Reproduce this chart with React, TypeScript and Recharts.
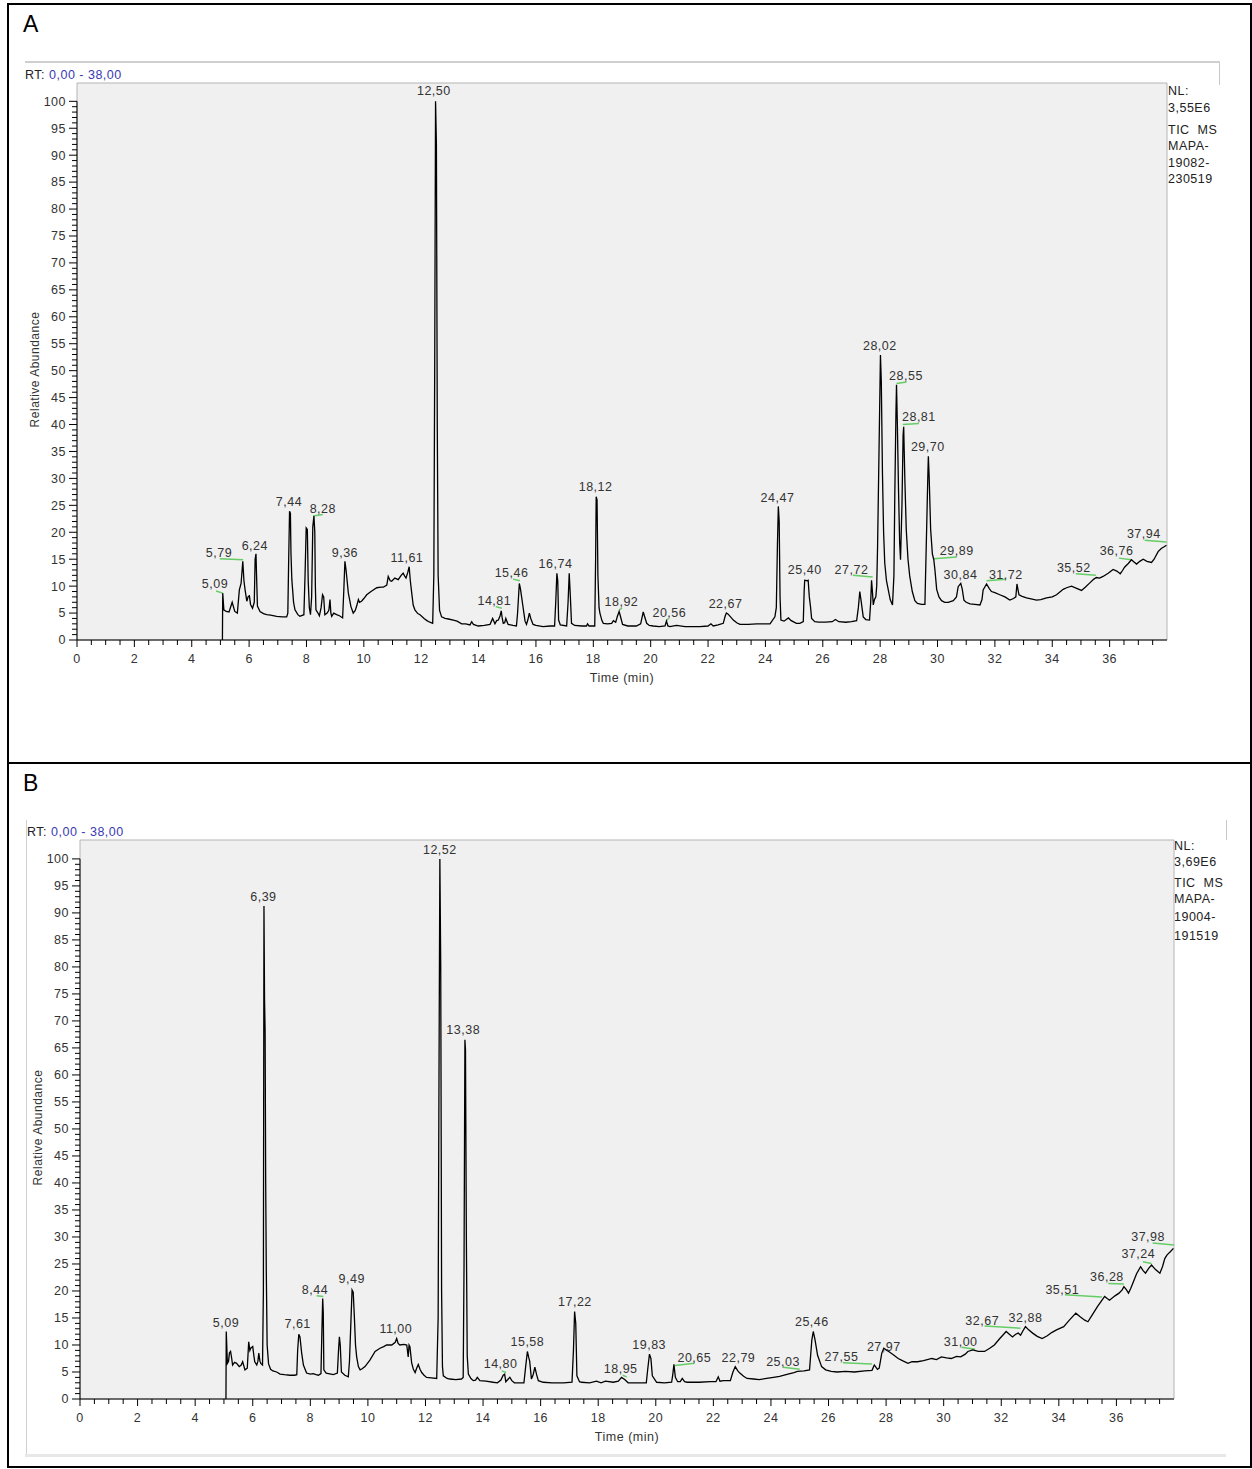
import React from "react";
import {
  CartesianGrid,
  ComposedChart,
  Label,
  Line,
  ReferenceArea,
  ReferenceLine,
  Scatter,
  XAxis,
  YAxis,
} from "recharts";

const FONT = '"Liberation Sans", Arial, Helvetica, sans-serif';

// TIC trace of MAPA-19082-230519: [time (min), relative abundance (%)]
const traceA: [number, number][] = [
  [5.07, 0], [5.08, 8.7], [5.12, 5.6], [5.2, 5.3], [5.3, 5.2], [5.41, 7.0], [5.5, 5.3], [5.59, 5.0],
  [5.66, 9.3], [5.72, 10.5], [5.78, 14.6], [5.82, 11], [5.86, 9.3], [5.92, 7.2], [5.97, 8.1], [6.01, 8.2],
  [6.05, 6.6], [6.12, 5.9], [6.18, 7], [6.21, 15], [6.24, 16.0], [6.26, 12], [6.29, 6.3], [6.38, 5.3],
  [6.5, 4.9], [6.61, 4.7], [6.75, 4.6], [6.96, 4.4], [7.15, 4.3], [7.31, 4.3], [7.35, 5.0], [7.38, 15],
  [7.41, 23.9], [7.44, 23.5], [7.46, 16], [7.49, 11.2], [7.55, 7], [7.6, 5.6], [7.7, 4.7], [7.77, 4.4],
  [7.91, 4.7], [7.95, 12], [7.99, 20.8], [8.03, 20.5], [8.06, 11], [8.1, 6], [8.14, 4.7], [8.18, 8],
  [8.22, 21], [8.26, 23.0], [8.29, 20], [8.31, 10], [8.33, 5.6], [8.4, 5], [8.45, 4.5], [8.51, 6],
  [8.56, 8.4], [8.6, 8], [8.64, 4.7], [8.72, 5], [8.78, 5.5], [8.82, 7.5], [8.85, 5], [8.88, 4.4],
  [8.95, 5], [9.05, 4.7], [9.15, 4.5], [9.26, 4.1], [9.3, 9], [9.34, 14.6], [9.38, 13], [9.46, 8.7],
  [9.55, 6.2], [9.63, 5.0], [9.7, 5.5], [9.75, 6.3], [9.81, 7.5], [9.85, 7], [9.92, 7.2], [10.0, 7.7],
  [10.1, 8.4], [10.25, 9.0], [10.45, 9.7], [10.6, 9.8], [10.68, 9.8], [10.8, 10.2], [10.85, 11.8], [10.92, 11],
  [10.97, 10.9], [11.08, 11.5], [11.2, 11.2], [11.3, 12], [11.37, 12.4], [11.42, 11.9], [11.47, 11.5], [11.53, 12.5],
  [11.58, 13.6], [11.62, 11], [11.67, 8.7], [11.72, 6.5], [11.78, 5.6], [11.88, 4.9], [11.96, 4.7], [12.1, 4.0],
  [12.2, 3.6], [12.3, 3.3], [12.4, 3.1], [12.44, 12], [12.47, 50], [12.5, 100], [12.53, 92], [12.56, 40],
  [12.59, 12], [12.64, 5.5], [12.71, 4.3], [12.83, 4.0], [12.95, 3.9], [13.12, 3.7], [13.25, 3.5], [13.41, 3.0],
  [13.55, 3.0], [13.7, 2.8], [13.76, 3.4], [13.82, 2.9], [13.99, 2.6], [14.2, 2.7], [14.4, 2.9], [14.49, 4.0],
  [14.57, 3.0], [14.63, 3.6], [14.69, 3.7], [14.75, 4.5], [14.79, 5.4], [14.82, 4.2], [14.86, 3.1], [14.91, 3.2],
  [14.95, 4.0], [15.0, 3.3], [15.03, 2.9], [15.2, 2.7], [15.32, 2.6], [15.36, 5], [15.42, 10.5], [15.46, 9.5],
  [15.5, 8.0], [15.54, 6.5], [15.58, 5.0], [15.62, 3.5], [15.67, 2.9], [15.72, 3.8], [15.77, 5.0], [15.82, 4.0],
  [15.9, 2.9], [16.0, 2.7], [16.25, 2.5], [16.5, 2.6], [16.65, 2.6], [16.69, 7], [16.73, 12.4], [16.76, 11],
  [16.79, 3.7], [16.85, 2.8], [17.07, 2.6], [17.12, 7], [17.16, 12.4], [17.2, 8], [17.24, 3.1], [17.35, 2.7],
  [17.6, 2.6], [17.76, 2.6], [17.8, 3.0], [17.85, 2.6], [18.05, 2.6], [18.08, 15], [18.1, 26.6], [18.13, 26],
  [18.16, 12], [18.2, 6], [18.23, 5.0], [18.3, 3.6], [18.35, 3.1], [18.5, 3.0], [18.64, 3.1], [18.7, 3.6],
  [18.78, 3.3], [18.84, 4.4], [18.9, 5.3], [18.94, 4.5], [19.02, 2.9], [19.2, 2.6], [19.39, 2.6], [19.5, 2.6],
  [19.65, 3.0], [19.7, 4.2], [19.74, 5.2], [19.78, 4.5], [19.86, 3.1], [19.95, 2.7], [20.09, 2.6], [20.3, 2.5],
  [20.5, 2.6], [20.55, 3.5], [20.6, 2.6], [20.67, 2.5], [20.9, 2.7], [21.2, 2.5], [21.5, 2.5], [21.71, 2.5],
  [22.0, 2.6], [22.1, 3.0], [22.18, 2.6], [22.35, 2.8], [22.53, 3.1], [22.6, 4.5], [22.64, 5.0], [22.7, 4.8],
  [22.8, 4.2], [22.88, 3.7], [23.0, 3.2], [23.11, 2.9], [23.4, 2.9], [23.7, 3.0], [24.0, 3.0], [24.16, 3.0],
  [24.33, 4.3], [24.38, 6], [24.42, 18], [24.45, 24.8], [24.48, 22], [24.51, 8], [24.54, 3.7], [24.65, 3.5],
  [24.8, 4.1], [24.9, 3.6], [25.08, 3.1], [25.2, 3.1], [25.32, 3.4], [25.35, 9], [25.37, 11.1], [25.45, 11.0],
  [25.49, 11.1], [25.53, 8], [25.57, 6.3], [25.61, 4.0], [25.72, 3.4], [25.86, 3.3], [26.1, 3.3], [26.33, 3.4],
  [26.44, 3.8], [26.56, 3.4], [26.8, 3.3], [27.0, 3.4], [27.18, 3.6], [27.24, 6], [27.29, 9.0], [27.33, 7.5],
  [27.41, 4.3], [27.5, 3.8], [27.63, 3.7], [27.67, 7], [27.7, 11.1], [27.73, 9], [27.76, 6.5], [27.8, 7.5],
  [27.85, 8.0], [27.88, 10], [27.91, 17.3], [27.96, 35], [28.01, 52.9], [28.04, 48], [28.08, 31], [28.12, 20],
  [28.16, 14.3], [28.22, 11], [28.28, 9.4], [28.35, 7.5], [28.43, 6.5], [28.48, 12], [28.51, 26.6], [28.55, 42],
  [28.57, 47.4], [28.6, 40], [28.64, 27.9], [28.68, 18], [28.71, 14.9], [28.76, 25], [28.8, 38], [28.82, 39.6],
  [28.86, 30], [28.91, 20.5], [28.97, 15], [29.03, 11.9], [29.12, 9], [29.21, 7.3], [29.3, 6.8], [29.44, 6.6],
  [29.56, 6.6], [29.62, 20.5], [29.66, 30], [29.68, 34.1], [29.71, 30], [29.76, 20.5], [29.82, 16], [29.87, 14.9],
  [29.91, 13.0], [29.97, 9.4], [30.05, 8], [30.14, 7.3], [30.25, 7.0], [30.37, 7.0], [30.55, 7.3], [30.66, 8],
  [30.72, 9.9], [30.81, 10.5], [30.86, 9.5], [30.92, 7.4], [31.0, 7.0], [31.13, 6.7], [31.3, 6.6], [31.48, 6.5],
  [31.55, 7.5], [31.59, 9.3], [31.71, 10.4], [31.8, 9.6], [31.88, 9.0], [32.0, 8.8], [32.17, 8.4], [32.35, 8.0],
  [32.52, 7.4], [32.65, 7.7], [32.73, 8.0], [32.77, 10.4], [32.8, 9.5], [32.84, 8.4], [32.95, 8.1], [33.1, 7.8],
  [33.3, 7.6], [33.45, 7.4], [33.6, 7.5], [33.8, 7.8], [34.0, 8.0], [34.15, 8.4], [34.38, 9.4], [34.5, 9.7],
  [34.67, 10.0], [34.85, 9.6], [35.02, 9.2], [35.15, 9.8], [35.31, 10.6], [35.45, 11.3], [35.54, 11.6], [35.65, 11.5],
  [35.77, 11.8], [35.95, 12.4], [36.12, 13.1], [36.25, 12.8], [36.37, 12.3], [36.45, 12.9], [36.52, 13.5], [36.65, 14.2],
  [36.76, 14.9], [36.85, 14.5], [36.94, 14.1], [37.05, 14.6], [37.17, 15.0], [37.3, 14.6], [37.46, 14.4], [37.55, 15.0],
  [37.69, 16.4], [37.8, 17.0], [37.9, 17.3], [37.98, 17.6],
];

// TIC trace of MAPA-19004-191519
const traceB: [number, number][] = [
  [5.07, 0], [5.08, 12.5], [5.12, 6.6], [5.16, 7], [5.19, 8.5], [5.23, 8.8], [5.27, 7.5], [5.3, 6.3],
  [5.37, 6.8], [5.44, 6.6], [5.53, 6.0], [5.6, 6.3], [5.65, 6.9], [5.73, 5.4], [5.81, 5.7], [5.86, 10.6],
  [5.9, 9.0], [5.93, 9.4], [6.0, 9.7], [6.04, 8], [6.07, 6.9], [6.14, 6.3], [6.18, 7], [6.21, 8.5],
  [6.25, 7], [6.28, 6.6], [6.34, 6.3], [6.37, 20], [6.39, 91.3], [6.41, 74], [6.43, 68], [6.45, 40],
  [6.47, 24], [6.5, 10], [6.55, 6.5], [6.62, 5.5], [6.7, 5.2], [6.83, 5.0], [6.95, 4.6], [7.1, 4.5],
  [7.29, 4.4], [7.45, 4.4], [7.53, 4.5], [7.56, 9], [7.6, 12.0], [7.64, 11.5], [7.7, 8.5], [7.76, 6.3],
  [7.87, 4.8], [8.0, 4.6], [8.1, 4.7], [8.2, 4.5], [8.28, 4.4], [8.37, 4.7], [8.4, 12], [8.43, 18.6],
  [8.45, 16], [8.47, 5.4], [8.55, 4.8], [8.63, 4.7], [8.8, 4.5], [8.94, 4.8], [8.98, 9], [9.01, 11.5],
  [9.04, 10], [9.08, 5], [9.2, 4.4], [9.32, 4.1], [9.36, 7], [9.4, 12.8], [9.45, 20.2], [9.49, 19.8],
  [9.53, 15.2], [9.57, 10], [9.61, 7.8], [9.67, 6], [9.73, 5.4], [9.8, 5.6], [9.9, 6.0], [10.07, 7.2],
  [10.25, 8.8], [10.42, 9.4], [10.55, 9.7], [10.65, 10.0], [10.83, 10.0], [10.95, 10.5], [11.0, 11.2], [11.05, 10.3],
  [11.11, 10.0], [11.25, 10.1], [11.35, 10.0], [11.4, 7.8], [11.43, 10.0], [11.46, 9.7], [11.52, 6.7], [11.58, 5.5],
  [11.64, 4.9], [11.7, 5.8], [11.75, 6.4], [11.81, 5.5], [11.87, 4.9], [11.95, 4.4], [12.04, 4.0], [12.2, 3.9],
  [12.39, 3.8], [12.44, 15], [12.47, 60], [12.5, 100], [12.53, 80], [12.56, 20], [12.59, 6], [12.62, 4.3],
  [12.75, 3.8], [12.85, 3.7], [13.05, 3.6], [13.25, 3.7], [13.31, 4], [13.34, 25], [13.37, 66.5], [13.39, 64.6],
  [13.42, 30], [13.45, 8], [13.49, 4.6], [13.58, 3.8], [13.66, 3.4], [13.74, 3.5], [13.8, 4.0], [13.89, 3.4],
  [14.1, 3.3], [14.35, 3.1], [14.5, 3.0], [14.62, 3.5], [14.7, 4.4], [14.75, 4.6], [14.79, 3.2], [14.86, 3.6],
  [14.93, 4.0], [15.0, 3.4], [15.09, 3.0], [15.25, 3.0], [15.42, 3.0], [15.48, 6], [15.54, 8.8], [15.59, 7.6],
  [15.62, 7.0], [15.68, 3.7], [15.74, 4.5], [15.8, 5.9], [15.86, 4.5], [15.92, 3.4], [16.09, 3.1], [16.4, 3.0],
  [16.8, 3.0], [17.09, 3.1], [17.14, 9], [17.18, 16.2], [17.22, 14], [17.26, 4.3], [17.35, 3.2], [17.42, 3.1],
  [17.7, 3.0], [17.94, 3.3], [18.1, 3.0], [18.25, 3.3], [18.52, 3.1], [18.7, 3.3], [18.81, 4.0], [18.92, 3.6],
  [19.04, 3.0], [19.3, 3.0], [19.67, 3.0], [19.72, 5.5], [19.78, 8.3], [19.83, 7.5], [19.88, 4.3], [20.03, 3.1],
  [20.3, 3.0], [20.55, 3.1], [20.59, 4.5], [20.63, 6.4], [20.68, 4], [20.76, 3.2], [20.85, 3.2], [20.92, 3.8],
  [21.0, 3.2], [21.09, 3.1], [21.5, 3.1], [21.9, 3.2], [22.09, 3.2], [22.17, 4.1], [22.23, 3.3], [22.35, 3.4],
  [22.59, 3.4], [22.68, 5.0], [22.76, 6.0], [22.85, 5.2], [22.92, 4.8], [23.05, 4.2], [23.17, 3.8], [23.4, 3.7],
  [23.59, 3.6], [23.85, 3.8], [24.09, 4.0], [24.3, 4.2], [24.59, 4.6], [24.8, 4.9], [24.92, 5.1], [25.15, 5.2],
  [25.34, 5.4], [25.42, 10.9], [25.47, 12.5], [25.53, 11], [25.62, 8.1], [25.76, 6.0], [25.9, 5.4], [26.09, 5.1],
  [26.3, 5.0], [26.59, 5.1], [26.9, 5.0], [27.26, 5.2], [27.51, 5.3], [27.59, 6.3], [27.7, 5.5], [27.76, 5.7],
  [27.85, 8.5], [27.92, 9.4], [28.0, 9.1], [28.09, 8.8], [28.25, 8.2], [28.42, 7.5], [28.6, 7.0], [28.76, 6.6],
  [28.9, 6.9], [29.09, 6.9], [29.3, 7.1], [29.59, 7.5], [29.75, 7.3], [29.92, 7.8], [30.1, 7.6], [30.26, 7.5],
  [30.45, 7.9], [30.59, 7.8], [30.75, 8.3], [30.84, 8.8], [31.01, 9.1], [31.2, 8.8], [31.42, 8.8], [31.6, 9.4],
  [31.76, 10.0], [31.95, 11.2], [32.17, 12.5], [32.28, 12.0], [32.39, 11.5], [32.5, 12.0], [32.59, 12.2], [32.67, 11.8],
  [32.75, 12.6], [32.84, 13.4], [32.95, 12.8], [33.09, 12.2], [33.25, 11.6], [33.42, 11.2], [33.6, 11.7], [33.75, 12.3],
  [33.92, 12.8], [34.17, 13.4], [34.35, 14.5], [34.59, 15.9], [34.75, 15.2], [34.9, 14.6], [35.01, 14.3], [35.15, 15.5],
  [35.34, 17.1], [35.5, 18.3], [35.59, 19.0], [35.68, 18.6], [35.76, 18.3], [35.95, 19.1], [36.09, 19.6], [36.2, 20.2],
  [36.26, 20.8], [36.35, 20.2], [36.42, 19.6], [36.5, 20.5], [36.59, 21.7], [36.7, 23.2], [36.84, 24.5], [36.92, 23.8],
  [37.01, 23.3], [37.12, 24.2], [37.22, 24.8], [37.35, 24.0], [37.51, 23.3], [37.6, 24.5], [37.68, 26.0], [37.76, 26.7],
  [37.88, 27.3], [37.98, 27.9],
];

// peak annotations: [text, time, abundance] where the text sits
const peaksA: [string, number, number][] = [
  ["5,09", 4.81, 10.4], ["5,79", 4.95, 16.2], ["6,24", 6.2, 17.6], ["7,44", 7.39, 25.6],
  ["8,28", 8.57, 24.3], ["9,36", 9.34, 16.3], ["11,61", 11.5, 15.2], ["12,50", 12.44, 102.0],
  ["14,81", 14.55, 7.3], ["15,46", 15.15, 12.5], ["16,74", 16.68, 14.2], ["18,12", 18.08, 28.5],
  ["18,92", 18.98, 7.1], ["20,56", 20.65, 5.1], ["22,67", 22.61, 6.7], ["24,47", 24.42, 26.5],
  ["25,40", 25.37, 13.0], ["27,72", 27.0, 13.1], ["28,02", 27.99, 54.6], ["28,55", 28.9, 49.0],
  ["28,81", 29.35, 41.4], ["29,70", 29.66, 35.9], ["29,89", 30.67, 16.5], ["30,84", 30.8, 12.2],
  ["31,72", 32.38, 12.2], ["35,52", 34.75, 13.5], ["36,76", 36.24, 16.5], ["37,94", 37.19, 19.7],
];

const peaksB: [string, number, number][] = [
  ["5,09", 5.07, 14.2], ["6,39", 6.37, 93.0], ["7,61", 7.56, 13.9], ["8,44", 8.16, 20.3],
  ["9,49", 9.44, 22.2], ["11,00", 10.97, 13.1], ["12,52", 12.5, 101.8], ["13,38", 13.31, 68.3],
  ["14,80", 14.61, 6.5], ["15,58", 15.54, 10.6], ["17,22", 17.19, 18.0], ["18,95", 18.78, 5.7],
  ["19,83", 19.77, 10.0], ["20,65", 21.34, 7.6], ["22,79", 22.87, 7.6], ["25,03", 24.42, 6.9],
  ["25,46", 25.42, 14.3], ["27,55", 26.45, 7.8], ["27,97", 27.92, 9.7], ["31,00", 30.59, 10.6],
  ["32,67", 31.34, 14.6], ["32,88", 32.84, 15.1], ["35,51", 34.12, 20.2], ["36,28", 35.67, 22.7],
  ["37,24", 36.76, 26.9], ["37,98", 37.1, 30.0],
];

// green peak marks: [t1, v1, t2, v2]
const marksA: [number, number, number, number][] = [
  [4.85, 9.1, 5.08, 8.7], [4.98, 15.1, 5.79, 14.9], [8.23, 23.0, 8.57, 23.3], [14.6, 6.2, 14.81, 5.9],
  [15.2, 11.3, 15.44, 11.0], [18.9, 5.6, 19.0, 5.9], [20.56, 3.6, 20.62, 4.0], [27.05, 12.0, 27.74, 11.7],
  [28.57, 47.6, 28.92, 47.9], [28.79, 40.0, 29.35, 40.2], [29.87, 15.1, 30.67, 15.4], [31.71, 11.0, 32.38, 11.3],
  [34.82, 12.3, 35.52, 12.0], [36.32, 15.2, 36.76, 14.9], [37.22, 18.5, 37.98, 18.2],
];

const marksB: [number, number, number, number][] = [
  [8.22, 19.1, 8.45, 19.0], [14.65, 5.2, 14.8, 4.9], [18.85, 4.4, 18.99, 4.1], [20.67, 6.2, 21.34, 6.6],
  [24.42, 5.9, 25.0, 5.5], [26.5, 6.7, 27.51, 6.5], [30.62, 9.6, 31.09, 9.2], [31.42, 13.5, 32.67, 13.1],
  [34.21, 19.3, 35.5, 18.9], [35.72, 21.4, 36.26, 21.3], [36.92, 25.4, 37.22, 25.1], [37.26, 28.9, 38.0, 28.5],
];

const infoA = ["NL:", "3,55E6", "TIC  MS", "MAPA-", "19082-", "230519"];
const infoB = ["NL:", "3,69E6", "TIC  MS", "MAPA-", "19004-", "191519"];

const xMajor = [0, 2, 4, 6, 8, 10, 12, 14, 16, 18, 20, 22, 24, 26, 28, 30, 32, 34, 36];
const yMajor = [0, 5, 10, 15, 20, 25, 30, 35, 40, 45, 50, 55, 60, 65, 70, 75, 80, 85, 90, 95, 100];

// minor ticks every 0.5 min and every 1 %
const xTicks: number[] = [];
xMajor.forEach((t) => [0, 0.5, 1, 1.5].forEach((d) => xTicks.push(t + d)));
const yTicks: number[] = [];
yMajor.forEach((v, i) => {
  if (i === yMajor.length - 1) yTicks.push(v);
  else [0, 1, 2, 3, 4].forEach((d) => yTicks.push(v + d));
});

const textStyle = { fontFamily: FONT, fontSize: 12.5, letterSpacing: 0.5, fill: "#333" };

const XTick = (p: any) => {
  const { x, y, payload } = p;
  const major = xMajor.includes(payload.value);
  return (
    <g>
      <line x1={x} x2={x} y1={y} y2={y + (major ? 7 : 5)} stroke="#000" />
      {major && (
        <text x={x} y={y + 19} dy="0.35em" textAnchor="middle" {...textStyle}>
          {payload.value}
        </text>
      )}
    </g>
  );
};

const YTick = (p: any) => {
  const { x, y, payload } = p;
  const major = yMajor.includes(payload.value);
  return (
    <g>
      <line x1={x - (major ? 8 : 5)} x2={x} y1={y} y2={y} stroke="#000" />
      {major && (
        <text x={x - 11} y={y} dy="0.35em" textAnchor="end" {...textStyle}>
          {payload.value}
        </text>
      )}
    </g>
  );
};

const PeakLabel = (p: any) => (
  <text x={p.cx} y={p.cy} dy="0.35em" textAnchor="middle" {...textStyle}>
    {p.payload.text}
  </text>
);

function Chromatogram({
  trace,
  peaks,
  marks,
  yMax,
  top,
  margin,
  axisWidth,
}: {
  trace: [number, number][];
  peaks: [string, number, number][];
  marks: [number, number, number, number][];
  yMax: number;
  top: number;
  margin: { top: number; right: number; bottom: number; left: number };
  axisWidth: number;
}) {
  const line = trace.map(([t, v]) => ({ t, v }));
  const labels = peaks.map(([text, t, v]) => ({ text, t, v }));
  return (
    <div style={{ position: "absolute", left: 0, top }}>
      <ComposedChart width={1252} height={700} margin={margin}>
        <CartesianGrid fill="#f0f0f0" horizontal={false} vertical={false} />
        <ReferenceArea x1={0} x2={38} y1={0} y2={yMax} fill="none" stroke="#b4b4b4" ifOverflow="visible" />
        <XAxis
          type="number"
          dataKey="t"
          domain={[0, 38]}
          allowDataOverflow
          ticks={xTicks}
          interval={0}
          tickSize={0}
          tickMargin={0}
          tickLine={false}
          tick={XTick}
          height={46}
          stroke="#000"
        >
          <Label value="Time (min)" position="insideBottom" offset={4} {...textStyle} />
        </XAxis>
        <YAxis
          type="number"
          domain={[0, yMax]}
          allowDataOverflow
          ticks={yTicks}
          interval={0}
          tickSize={0}
          tickMargin={0}
          tickLine={false}
          axisLine={false}
          tick={YTick}
          width={axisWidth}
        >
          <Label
            content={(lp: any) => {
              const vb = lp.viewBox || { x: 0, y: margin.top, width: axisWidth, height: 557 };
              const cx = vb.x + vb.width - 42;
              const cy = vb.y + vb.height / 2 + 8;
              return (
                <text
                  x={cx}
                  y={cy}
                  dy="0.35em"
                  transform={`rotate(-90 ${cx} ${cy})`}
                  textAnchor="middle"
                  {...textStyle}
                  fontSize={12}
                >
                  Relative Abundance
                </text>
              );
            }}
          />
        </YAxis>
        <ReferenceLine segment={[{ x: 0, y: 0 }, { x: 0, y: 100 }]} stroke="#000" ifOverflow="visible" />
        {marks.map((m, i) => (
          <ReferenceLine
            key={i}
            segment={[{ x: m[0], y: m[1] }, { x: m[2], y: m[3] }]}
            stroke="#66cc66"
            strokeWidth={1.5}
            ifOverflow="visible"
          />
        ))}
        <Line
          data={line}
          dataKey="v"
          type="linear"
          stroke="#000"
          strokeWidth={1.3}
          dot={false}
          isAnimationActive={false}
        />
        <Scatter data={labels} dataKey="v" shape={PeakLabel} isAnimationActive={false} />
      </ComposedChart>
    </div>
  );
}

export default function App() {
  const t = { fontFamily: FONT, fontSize: 12.5, letterSpacing: 0.5, fill: "#222" };
  const offsA = [95, 112, 134, 150, 167, 183];
  const offsB = [849.5, 866, 887, 903, 921, 939.5];
  return (
    <div style={{ position: "absolute", left: 0, top: 0, width: 1252, height: 1469, background: "#fff" }}>
      <svg width={1252} height={1469} style={{ position: "absolute", left: 0, top: 0 }}>
        <rect x={8} y={4} width={1243} height={1463} fill="none" stroke="#000" strokeWidth={2} />
        <line x1={8} x2={1251} y1={763} y2={763} stroke="#000" strokeWidth={2} />
        <text x={23} y={32} fontFamily={FONT} fontSize={23}>A</text>
        <text x={23} y={791} fontFamily={FONT} fontSize={23}>B</text>
        <line x1={25} x2={1220} y1={62} y2={62} stroke="#cfcfcf" strokeWidth={2} />
        <line x1={1219.5} x2={1219.5} y1={62} y2={85} stroke="#c8c8c8" />
        <line x1={26.5} x2={26.5} y1={820} y2={1455} stroke="#d0d0d0" />
        <line x1={25} x2={1226} y1={1455.5} y2={1455.5} stroke="#e8e8e8" strokeWidth={3} />
        <line x1={1226.5} x2={1226.5} y1={820} y2={840} stroke="#c8c8c8" />
        <text x={25} y={78.5} {...t}>
          RT: <tspan fill="#3a3ab4">0,00 - 38,00</tspan>
        </text>
        <text x={27} y={835.5} {...t}>
          RT: <tspan fill="#3a3ab4">0,00 - 38,00</tspan>
        </text>
        {infoA.map((s, i) => (
          <text key={"a" + i} x={1168} y={offsA[i]} {...t} style={{ whiteSpace: "pre" }}>
            {s}
          </text>
        ))}
        {infoB.map((s, i) => (
          <text key={"b" + i} x={1174} y={offsB[i]} {...t} style={{ whiteSpace: "pre" }}>
            {s}
          </text>
        ))}
      </svg>
      <Chromatogram
        trace={traceA}
        peaks={peaksA}
        marks={marksA}
        yMax={103.4}
        top={0}
        margin={{ top: 83, right: 85, bottom: 14, left: 0 }}
        axisWidth={77}
      />
      <Chromatogram
        trace={traceB}
        peaks={peaksB}
        marks={marksB}
        yMax={103.5}
        top={760}
        margin={{ top: 80, right: 78, bottom: 15, left: 0 }}
        axisWidth={80}
      />
    </div>
  );
}
